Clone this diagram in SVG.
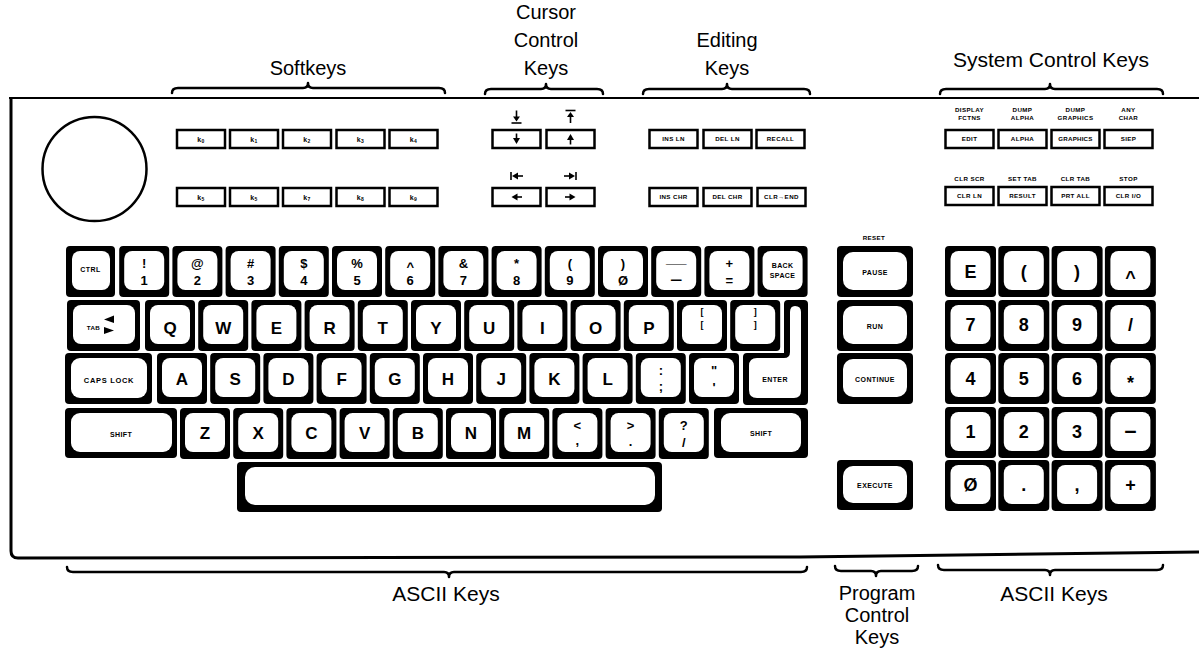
<svg xmlns="http://www.w3.org/2000/svg" width="1199" height="649" viewBox="0 0 1199 649">
<style>
.ko{fill:#000}
.ki{fill:#fff}
.t{font-family:'Liberation Sans',Arial,sans-serif;fill:#000;text-anchor:middle}
.big{font-size:17px;font-weight:bold}
.np{font-size:18px;font-weight:bold}
.num{font-size:13px;font-weight:bold}
.br9{font-size:9px;font-weight:bold}
.sm{font-size:7px;font-weight:bold;letter-spacing:0.4px}
.xs{font-size:6.2px;font-weight:bold;letter-spacing:0.4px}
.title{font-size:20px}
.sk{fill:#fff;stroke:#000;stroke-width:2.5}
.br{fill:none;stroke:#000;stroke-width:2.5;stroke-linecap:round;stroke-linejoin:round}
.ar{fill:#000}
.st{stroke:#000;stroke-width:1.6;fill:none}
</style>
<defs>
<g id="kb"><rect class="ko" width="50" height="51" rx="4"/><rect class="ki" x="5" y="5" width="40" height="39" rx="8"/></g>
<g id="kn"><rect class="ko" width="51" height="51" rx="4"/><rect class="ki" x="5.5" y="5" width="40" height="39" rx="8"/></g>
<rect id="sk" class="sk" width="48" height="18"/>
</defs>

<g id="housing">
<path d="M9,98 H1199" stroke="#000" stroke-width="2.2" fill="none"/>
<path d="M11,97 V551 Q11,558 18,558 L800,557 L1199,552" stroke="#000" stroke-width="3" fill="none"/>
<circle cx="94.5" cy="169" r="52" fill="none" stroke="#000" stroke-width="2.5"/>
</g>

<g id="labels">
<text class="t title" x="308" y="75">Softkeys</text>
<text class="t title" x="546" y="19">Cursor</text>
<text class="t title" x="546" y="47">Control</text>
<text class="t title" x="546" y="75">Keys</text>
<text class="t title" x="727" y="47">Editing</text>
<text class="t title" x="727" y="75">Keys</text>
<text class="t title" x="1051" y="67" style="font-size:21px">System Control Keys</text>
<text class="t title" x="446" y="601" style="font-size:21px">ASCII Keys</text>
<text class="t title" x="877" y="600">Program</text>
<text class="t title" x="877" y="622">Control</text>
<text class="t title" x="877" y="644">Keys</text>
<text class="t title" x="1054" y="601" style="font-size:21px">ASCII Keys</text>
</g>

<g id="braces">
<path class="br" d="M172,93 Q172,88 178,88 L303,88 Q308,88 308,83 Q308,88 313,88 L439,88 Q445,88 445,93"/>
<path class="br" d="M485,94 Q485,89 491,89 L541,89 Q546,89 546,84 Q546,89 551,89 L597,89 Q603,89 603,94"/>
<path class="br" d="M643,94 Q643,89 649,89 L722,89 Q727,89 727,84 Q727,89 732,89 L804,89 Q810,89 810,94"/>
<path class="br" d="M940,94 Q940,89 946,89 L1045,89 Q1050,89 1050,84 Q1050,89 1055,89 L1157,89 Q1163,89 1163,94"/>
<path class="br" d="M67,567 Q67,572 73,572 L444,572 Q449,572 449,577 Q449,572 454,572 L801,572 Q807,572 807,567"/>
<path class="br" d="M835,566 Q835,571 841,571 L871,571 Q876,571 876,576 Q876,571 881,571 L912,571 Q918,571 918,566"/>
<path class="br" d="M938,565 Q938,570 944,570 L1045,570 Q1050,570 1050,575 Q1050,570 1055,570 L1157,570 Q1163,570 1163,565"/>
</g>

<!-- Softkeys -->
<g id="softkeys">
<g id="sk-k0"><use href="#sk" x="177" y="130"/><text class="t sm" x="201" y="141.5">k<tspan font-size="5" dy="1.5">0</tspan></text></g>
<g id="sk-k1"><use href="#sk" x="230" y="130"/><text class="t sm" x="254" y="141.5">k<tspan font-size="5" dy="1.5">1</tspan></text></g>
<g id="sk-k2"><use href="#sk" x="283" y="130"/><text class="t sm" x="307" y="141.5">k<tspan font-size="5" dy="1.5">2</tspan></text></g>
<g id="sk-k3"><use href="#sk" x="336.5" y="130"/><text class="t sm" x="360.5" y="141.5">k<tspan font-size="5" dy="1.5">3</tspan></text></g>
<g id="sk-k4"><use href="#sk" x="389.5" y="130"/><text class="t sm" x="413.5" y="141.5">k<tspan font-size="5" dy="1.5">4</tspan></text></g>
<g id="sk-k5"><use href="#sk" x="177" y="188"/><text class="t sm" x="201" y="199.5">k<tspan font-size="5" dy="1.5">5</tspan></text></g>
<g id="sk-k6"><use href="#sk" x="230" y="188"/><text class="t sm" x="254" y="199.5">k<tspan font-size="5" dy="1.5">5</tspan></text></g>
<g id="sk-k7"><use href="#sk" x="283" y="188"/><text class="t sm" x="307" y="199.5">k<tspan font-size="5" dy="1.5">7</tspan></text></g>
<g id="sk-k8"><use href="#sk" x="336.5" y="188"/><text class="t sm" x="360.5" y="199.5">k<tspan font-size="5" dy="1.5">8</tspan></text></g>
<g id="sk-k9"><use href="#sk" x="389.5" y="188"/><text class="t sm" x="413.5" y="199.5">k<tspan font-size="5" dy="1.5">9</tspan></text></g>
</g>

<!-- Cursor control keys -->
<g id="cursor">
<g id="cur-down"><use href="#sk" x="492.5" y="130"/>
<path class="st" d="M516.5,133.5 V139"/><polygon class="ar" points="513,138 520,138 516.5,144"/>
<path class="st" d="M516.5,110.5 V118"/><polygon class="ar" points="513,116.5 520,116.5 516.5,121.5"/><path class="st" d="M511.5,123 H521.5"/></g>
<g id="cur-up"><use href="#sk" x="546.5" y="130"/>
<path class="st" d="M570.5,139 V144.5"/><polygon class="ar" points="567,140 574,140 570.5,134"/>
<path class="st" d="M565.5,110.5 H575.5"/><polygon class="ar" points="567,117 574,117 570.5,112"/><path class="st" d="M570.5,116 V123"/></g>
<g id="cur-left"><use href="#sk" x="492.5" y="188"/>
<polygon class="ar" points="511.5,197 517.5,193.5 517.5,200.5"/><path class="st" d="M517,197 H522"/>
<path class="st" d="M511,172 V180"/><polygon class="ar" points="512,176 518,172.5 518,179.5"/><path class="st" d="M517.5,176 H523"/></g>
<g id="cur-right"><use href="#sk" x="546.5" y="188"/>
<polygon class="ar" points="575.5,197 569.5,193.5 569.5,200.5"/><path class="st" d="M565,197 H570"/>
<path class="st" d="M576,172 V180"/><polygon class="ar" points="575,176 569,172.5 569,179.5"/><path class="st" d="M564,176 H569.5"/></g>
</g>

<!-- Editing keys -->
<g id="editing">
<g id="ed-insln"><use href="#sk" x="649.5" y="130"/><text class="t xs" x="673.5" y="141.3">INS LN</text></g>
<g id="ed-delln"><use href="#sk" x="703.5" y="130"/><text class="t xs" x="727.5" y="141.3">DEL LN</text></g>
<g id="ed-recall"><use href="#sk" x="756.5" y="130"/><text class="t xs" x="780.5" y="141.3">RECALL</text></g>
<g id="ed-inschr"><use href="#sk" x="649.5" y="188"/><text class="t xs" x="673.5" y="199.3">INS CHR</text></g>
<g id="ed-delchr"><use href="#sk" x="703.5" y="188"/><text class="t xs" x="727.5" y="199.3">DEL CHR</text></g>
<g id="ed-clrend"><use href="#sk" x="757.5" y="188"/><text class="t xs" x="781.5" y="199.3">CLR→END</text></g>
</g>

<!-- System control keys -->
<g id="system">
<g id="sys-edit"><text class="t xs" x="969.5" y="112">DISPLAY</text><text class="t xs" x="969.5" y="120">FCTNS</text><use href="#sk" x="945.5" y="130"/><text class="t xs" x="969.5" y="141.3">EDIT</text></g>
<g id="sys-alpha"><text class="t xs" x="1022.5" y="112">DUMP</text><text class="t xs" x="1022.5" y="120">ALPHA</text><use href="#sk" x="998.5" y="130"/><text class="t xs" x="1022.5" y="141.3">ALPHA</text></g>
<g id="sys-graphics"><text class="t xs" x="1075.5" y="112">DUMP</text><text class="t xs" x="1075.5" y="120">GRAPHICS</text><use href="#sk" x="1051.5" y="130"/><text class="t xs" x="1075.5" y="141.3" style="letter-spacing:0.2px">GRAPHICS</text></g>
<g id="sys-step"><text class="t xs" x="1128.5" y="112">ANY</text><text class="t xs" x="1128.5" y="120">CHAR</text><use href="#sk" x="1104.5" y="130"/><text class="t xs" x="1128.5" y="141.3">SIEP</text></g>
<g id="sys-clrln"><text class="t xs" x="969.5" y="181">CLR SCR</text><use href="#sk" x="945.5" y="187"/><text class="t xs" x="969.5" y="198.3">CLR LN</text></g>
<g id="sys-result"><text class="t xs" x="1022.5" y="181">SET TAB</text><use href="#sk" x="998.5" y="187"/><text class="t xs" x="1022.5" y="198.3">RESULT</text></g>
<g id="sys-prtall"><text class="t xs" x="1075.5" y="181">CLR TAB</text><use href="#sk" x="1051.5" y="187"/><text class="t xs" x="1075.5" y="198.3">PRT ALL</text></g>
<g id="sys-clrio"><text class="t xs" x="1128.5" y="181">STOP</text><use href="#sk" x="1104.5" y="187"/><text class="t xs" x="1128.5" y="198.3">CLR I/O</text></g>
</g>

<!-- Main ASCII keyboard -->
<g id="ascii">
<g id="key-ctrl"><rect class="ko" x="66" y="246" width="49" height="51" rx="4"/><rect class="ki" x="72" y="251" width="38" height="39" rx="8"/><text class="t sm" x="90.5" y="272">CTRL</text></g>
<g id="key-1"><use href="#kb" x="119.2" y="246"/><text class="t num" x="144.2" y="268">!</text><text class="t num" x="144.2" y="285">1</text></g>
<g id="key-2"><use href="#kb" x="172.4" y="246"/><text class="t num" x="197.4" y="268">@</text><text class="t num" x="197.4" y="285">2</text></g>
<g id="key-3"><use href="#kb" x="225.6" y="246"/><text class="t num" x="250.6" y="268">#</text><text class="t num" x="250.6" y="285">3</text></g>
<g id="key-4"><use href="#kb" x="278.8" y="246"/><text class="t num" x="303.8" y="268">$</text><text class="t num" x="303.8" y="285">4</text></g>
<g id="key-5"><use href="#kb" x="332" y="246"/><text class="t num" x="357" y="268">%</text><text class="t num" x="357" y="285">5</text></g>
<g id="key-6"><use href="#kb" x="385.2" y="246"/><text class="t num" x="410.2" y="271">^</text><text class="t num" x="410.2" y="285">6</text></g>
<g id="key-7"><use href="#kb" x="438.4" y="246"/><text class="t num" x="463.4" y="268">&amp;</text><text class="t num" x="463.4" y="285">7</text></g>
<g id="key-8"><use href="#kb" x="491.6" y="246"/><text class="t num" x="516.6" y="268">*</text><text class="t num" x="516.6" y="285">8</text></g>
<g id="key-9"><use href="#kb" x="544.8" y="246"/><text class="t num" x="569.8" y="268">(</text><text class="t num" x="569.8" y="285">9</text></g>
<g id="key-0"><use href="#kb" x="598" y="246"/><text class="t num" x="623" y="268">)</text><text class="t num" x="623" y="285">Ø</text></g>
<g id="key-minus"><use href="#kb" x="651.2" y="246"/><text class="t num" x="676.2" y="263" textLength="20" lengthAdjust="spacingAndGlyphs">_</text><text class="t num" x="676.2" y="284" textLength="14" lengthAdjust="spacingAndGlyphs">-</text></g>
<g id="key-equal"><use href="#kb" x="704.4" y="246"/><text class="t num" x="729.4" y="268">+</text><text class="t num" x="729.4" y="285">=</text></g>
<g id="key-backspace"><use href="#kb" x="757.6" y="246"/><text class="t sm" x="782.6" y="268">BACK</text><text class="t sm" x="782.6" y="278">SPACE</text></g>

<g id="key-tab"><rect class="ko" x="67" y="300" width="73" height="51" rx="4"/><rect class="ki" x="73" y="305" width="62" height="39" rx="8"/><text class="t xs" x="93.5" y="329.5">TAB</text><polygon class="ar" points="104,319.5 114,315.5 114,323"/><polygon class="ar" points="114,330.5 104,327 104,334"/></g>
<g id="key-q"><use href="#kb" x="145" y="300"/><text class="t big" x="170" y="334">Q</text></g>
<g id="key-w"><use href="#kb" x="198.2" y="300"/><text class="t big" x="223.2" y="334">W</text></g>
<g id="key-e"><use href="#kb" x="251.4" y="300"/><text class="t big" x="276.4" y="334">E</text></g>
<g id="key-r"><use href="#kb" x="304.6" y="300"/><text class="t big" x="329.6" y="334">R</text></g>
<g id="key-t"><use href="#kb" x="357.8" y="300"/><text class="t big" x="382.8" y="334">T</text></g>
<g id="key-y"><use href="#kb" x="411" y="300"/><text class="t big" x="436" y="334">Y</text></g>
<g id="key-u"><use href="#kb" x="464.2" y="300"/><text class="t big" x="489.2" y="334">U</text></g>
<g id="key-i"><use href="#kb" x="517.4" y="300"/><text class="t big" x="542.4" y="334">I</text></g>
<g id="key-o"><use href="#kb" x="570.6" y="300"/><text class="t big" x="595.6" y="334">O</text></g>
<g id="key-p"><use href="#kb" x="623.8" y="300"/><text class="t big" x="648.8" y="334">P</text></g>
<g id="key-lbracket"><use href="#kb" x="677" y="300"/><text class="t br9" x="702" y="315">[</text><text class="t br9" x="702" y="328">[</text></g>
<g id="key-rbracket"><use href="#kb" x="730.2" y="300"/><text class="t br9" x="755.2" y="315">]</text><text class="t br9" x="755.2" y="328">]</text></g>
<g id="key-enter"><path class="ko" d="M788,300 H804 Q808,300 808,304 V401 Q808,405 804,405 H747 Q743,405 743,401 V357 Q743,353 747,353 H784 V304 Q784,300 788,300 Z"/><path class="ki" d="M795,306 Q801,306 801,312 V391 Q801,398 794,398 H757 Q749,398 749,390 V366 Q749,358 757,358 H784 Q790,358 790,352 V312 Q790,306 795,306 Z"/><text class="t sm" x="775" y="382">ENTER</text></g>

<g id="key-capslock"><rect class="ko" x="65" y="353" width="87" height="51" rx="4"/><rect class="ki" x="71" y="358" width="76" height="40" rx="9"/><text class="t sm" x="109" y="383" style="font-size:7.5px;letter-spacing:0.7px">CAPS LOCK</text></g>
<g id="key-a"><use href="#kb" x="157" y="353"/><text class="t big" x="182" y="385">A</text></g>
<g id="key-s"><use href="#kb" x="210.2" y="353"/><text class="t big" x="235.2" y="385">S</text></g>
<g id="key-d"><use href="#kb" x="263.4" y="353"/><text class="t big" x="288.4" y="385">D</text></g>
<g id="key-f"><use href="#kb" x="316.6" y="353"/><text class="t big" x="341.6" y="385">F</text></g>
<g id="key-g"><use href="#kb" x="369.8" y="353"/><text class="t big" x="394.8" y="385">G</text></g>
<g id="key-h"><use href="#kb" x="423" y="353"/><text class="t big" x="448" y="385">H</text></g>
<g id="key-j"><use href="#kb" x="476.2" y="353"/><text class="t big" x="501.2" y="385">J</text></g>
<g id="key-k"><use href="#kb" x="529.4" y="353"/><text class="t big" x="554.4" y="385">K</text></g>
<g id="key-l"><use href="#kb" x="582.6" y="353"/><text class="t big" x="607.6" y="385">L</text></g>
<g id="key-semicolon"><use href="#kb" x="635.8" y="353"/><text class="t num" x="660.8" y="375">:</text><text class="t num" x="660.8" y="391">;</text></g>
<g id="key-quote"><use href="#kb" x="689" y="353"/><text class="t num" x="714" y="375">"</text><text class="t num" x="714" y="392">'</text></g>

<g id="key-shift-l"><rect class="ko" x="65" y="408" width="112" height="50" rx="4"/><rect class="ki" x="71" y="413" width="101" height="39" rx="9"/><text class="t sm" x="121" y="437">SHIFT</text></g>
<g id="key-z"><use href="#kb" x="180" y="408"/><text class="t big" x="205" y="439">Z</text></g>
<g id="key-x"><use href="#kb" x="233.2" y="408"/><text class="t big" x="258.2" y="439">X</text></g>
<g id="key-c"><use href="#kb" x="286.4" y="408"/><text class="t big" x="311.4" y="439">C</text></g>
<g id="key-v"><use href="#kb" x="339.6" y="408"/><text class="t big" x="364.6" y="439">V</text></g>
<g id="key-b"><use href="#kb" x="392.8" y="408"/><text class="t big" x="417.8" y="439">B</text></g>
<g id="key-n"><use href="#kb" x="446" y="408"/><text class="t big" x="471" y="439">N</text></g>
<g id="key-m"><use href="#kb" x="499.2" y="408"/><text class="t big" x="524.2" y="439">M</text></g>
<g id="key-comma"><use href="#kb" x="552.4" y="408"/><text class="t num" x="577.4" y="430">&lt;</text><text class="t num" x="577.4" y="445">,</text></g>
<g id="key-period"><use href="#kb" x="605.6" y="408"/><text class="t num" x="630.6" y="430">&gt;</text><text class="t num" x="630.6" y="446">.</text></g>
<g id="key-slash"><use href="#kb" x="658.8" y="408"/><text class="t num" x="683.8" y="430">?</text><text class="t num" x="683.8" y="447">/</text></g>
<g id="key-shift-r"><rect class="ko" x="714" y="408" width="94" height="50" rx="4"/><rect class="ki" x="721" y="413" width="80" height="39" rx="9"/><text class="t sm" x="761" y="436">SHIFT</text></g>

<g id="key-space"><rect class="ko" x="237" y="462" width="425" height="50" rx="4"/><rect class="ki" x="245" y="467" width="410" height="38" rx="10"/></g>
</g>

<!-- Program control keys -->
<g id="program">
<text class="t xs" x="874" y="240">RESET</text>
<g id="key-pause"><rect class="ko" x="837" y="246" width="76" height="51" rx="4"/><rect class="ki" x="843" y="252" width="64" height="38" rx="10"/><text class="t sm" x="875" y="275">PAUSE</text></g>
<g id="key-run"><rect class="ko" x="837" y="300" width="76" height="51" rx="4"/><rect class="ki" x="843" y="306" width="64" height="38" rx="10"/><text class="t sm" x="875" y="329">RUN</text></g>
<g id="key-continue"><rect class="ko" x="837" y="353" width="76" height="51" rx="4"/><rect class="ki" x="843" y="359" width="64" height="38" rx="10"/><text class="t sm" x="875" y="382">CONTINUE</text></g>
<g id="key-execute"><rect class="ko" x="837" y="460" width="76" height="50" rx="4"/><rect class="ki" x="843" y="466" width="64" height="37" rx="10"/><text class="t sm" x="875" y="488">EXECUTE</text></g>
</g>

<!-- Numeric pad -->
<g id="numpad">
<g id="np-e"><use href="#kn" x="945" y="246"/><text class="t np" x="970.5" y="278">E</text></g>
<g id="np-lparen"><use href="#kn" x="998.3" y="246"/><text class="t np" x="1023.8" y="278">(</text></g>
<g id="np-rparen"><use href="#kn" x="1051.6" y="246"/><text class="t np" x="1077.1" y="278">)</text></g>
<g id="np-caret"><use href="#kn" x="1104.9" y="246"/><text class="t np" x="1130.4" y="284">^</text></g>
<g id="np-7"><use href="#kn" x="945" y="300"/><text class="t np" x="970.5" y="331">7</text></g>
<g id="np-8"><use href="#kn" x="998.3" y="300"/><text class="t np" x="1023.8" y="331">8</text></g>
<g id="np-9"><use href="#kn" x="1051.6" y="300"/><text class="t np" x="1077.1" y="331">9</text></g>
<g id="np-slash"><use href="#kn" x="1104.9" y="300"/><text class="t np" x="1130.4" y="331">/</text></g>
<g id="np-4"><use href="#kn" x="945" y="353"/><text class="t np" x="970.5" y="385">4</text></g>
<g id="np-5"><use href="#kn" x="998.3" y="353"/><text class="t np" x="1023.8" y="385">5</text></g>
<g id="np-6"><use href="#kn" x="1051.6" y="353"/><text class="t np" x="1077.1" y="385">6</text></g>
<g id="np-star"><use href="#kn" x="1104.9" y="353"/><text class="t np" x="1130.4" y="389">*</text></g>
<g id="np-1"><use href="#kn" x="945" y="407"/><text class="t np" x="970.5" y="438">1</text></g>
<g id="np-2"><use href="#kn" x="998.3" y="407"/><text class="t np" x="1023.8" y="438">2</text></g>
<g id="np-3"><use href="#kn" x="1051.6" y="407"/><text class="t np" x="1077.1" y="438">3</text></g>
<g id="np-minus"><use href="#kn" x="1104.9" y="407"/><text class="t np" x="1130.4" y="437" textLength="14" lengthAdjust="spacingAndGlyphs">-</text></g>
<g id="np-0"><use href="#kn" x="945" y="460"/><text class="t np" x="970.5" y="491">Ø</text></g>
<g id="np-dot"><use href="#kn" x="998.3" y="460"/><text class="t np" x="1023.8" y="491">.</text></g>
<g id="np-comma"><use href="#kn" x="1051.6" y="460"/><text class="t np" x="1077.1" y="491">,</text></g>
<g id="np-plus"><use href="#kn" x="1104.9" y="460"/><text class="t np" x="1130.4" y="491">+</text></g>
</g>
</svg>
